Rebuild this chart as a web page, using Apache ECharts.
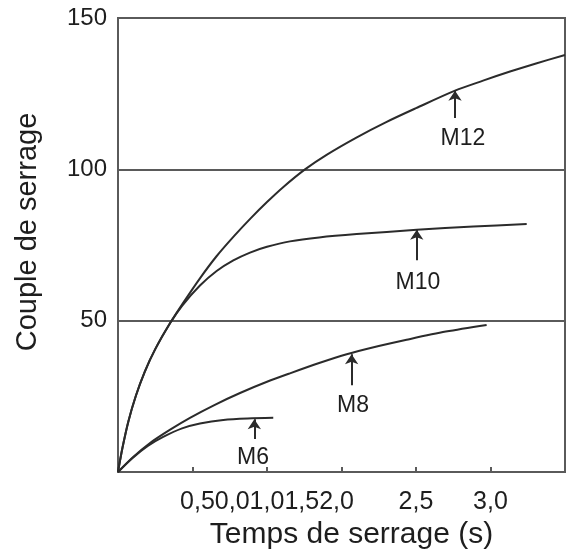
<!DOCTYPE html>
<html>
<head>
<meta charset="utf-8">
<title>Couple de serrage</title>
<script src="https://cdn.jsdelivr.net/npm/echarts@6/dist/echarts.min.js"></script>
<style>
    html, body { margin: 0; padding: 0; background: #fff; }
    #main { width: 571px; height: 553px; }
</style>
</head>
<body>
<div id="main"></div>
<script>
// x axis ticks every 0.5, labels as printed under ticks
var tickLabels = ['', '', '0,50,01,01,52,0', '', '2,5', '3,0', ''];
var yTicks = [0, 50, 100, 150];

// curves [x, couple]
var m12 = [[0, 0], [0.03, 8.0], [0.07, 16.8], [0.12, 25.2], [0.18, 33.2], [0.25, 40.6], [0.35, 49.2],
    [0.45, 56.8], [0.55, 64.0], [0.66, 71.2], [0.78, 78.0], [0.89, 83.8], [1.0, 89.2], [1.11, 94.2],
    [1.255, 100], [1.4, 104.8], [1.6, 110.5], [1.8, 115.6], [2.0, 120.2], [2.262, 126.0],
    [2.45, 129.3], [2.631, 132.3], [2.8, 134.9], [3.0, 137.8]];
var m10 = [[0, 0], [0.03, 8.0], [0.07, 16.8], [0.12, 25.2], [0.18, 33.2], [0.25, 40.6], [0.35, 49.2],
    [0.43, 54.9], [0.55, 61.6], [0.662, 66.4], [0.774, 69.9], [0.886, 72.5], [1.0, 74.4],
    [1.154, 76.2], [1.35, 77.5], [1.602, 78.6], [2.005, 80.0], [2.385, 81.1], [2.743, 81.9]];
var m8 = [[0, 0], [0.1, 4.9], [0.215, 9.6], [0.35, 14.0], [0.483, 17.9], [0.65, 22.2], [0.819, 26.1],
    [1.0, 29.8], [1.154, 32.6], [1.35, 36.0], [1.535, 38.9], [1.75, 41.6], [1.937, 43.7],
    [2.2, 46.4], [2.474, 48.6]];
var m6 = [[0, 0], [0.1, 4.7], [0.2, 8.6], [0.3, 11.5], [0.43, 14.4], [0.55, 16.0], [0.707, 17.2],
    [0.87, 17.7], [1.042, 17.9]];

// fleches: [nom, x, bas de la fleche, pointe, x du texte, y du texte]
var arrows = [
    ['M12', 2.262, 117.0, 126.0, 2.315, 110.0],
    ['M10', 2.005, 70.0, 80.0, 2.013, 62.6],
    ['M8', 1.568, 28.7, 38.9, 1.577, 22.0],
    ['M6', 0.915, 10.9, 17.4, 0.906, 4.6]
];

window.onload = function() {
    var myChart = echarts.init(document.getElementById('main'));
    var lineColor = '#2b2b2b',
        frameColor = '#5a5a5a',
        textColor = '#1e1e1e',
        font = 'Liberation Sans, Arial, sans-serif';

    function curve(name, data) {
        return {
            name: name,
            type: 'line',
            data: data,
            smooth: 0.3,
            showSymbol: false,
            lineStyle: { color: lineColor, width: 2 },
            silent: true
        };
    }

    var series = [curve('M12', m12), curve('M10', m10), curve('M8', m8), curve('M6', m6)];

    // fleches
    series.push({
        type: 'line',
        data: [],
        silent: true,
        markLine: {
            silent: true,
            symbol: ['none', 'arrow'],
            symbolSize: 10,
            lineStyle: { color: lineColor, width: 2, type: 'solid' },
            itemStyle: { color: lineColor },
            label: { show: false },
            data: arrows.map(function(a) {
                return [{ coord: [a[1], a[2]] }, { coord: [a[1], a[3]] }];
            })
        }
    });
    // noms des courbes
    series.push({
        type: 'scatter',
        symbolSize: 0,
        itemStyle: { color: textColor, opacity: 1 },
        silent: true,
        data: arrows.map(function(a) { return [a[4], a[5], a[0]]; }),
        label: {
            show: true,
            position: 'inside',
            formatter: function(p) { return p.data[2]; },
            color: textColor,
            opacity: 1,
            textBorderWidth: 0,
            fontFamily: font,
            fontSize: 23
        }
    });

    var option = {
        animation: false,
        backgroundColor: '#fff',
        grid: {
            left: 118,
            right: 6,
            top: 18,
            bottom: 81,
            outerBoundsMode: 'none',
            containLabel: false,
            show: true,
            borderColor: frameColor,
            borderWidth: 2
        },
        xAxis: {
            type: 'value',
            min: 0,
            max: 3,
            interval: 0.5,
            name: 'Temps de serrage (s)',
            nameLocation: 'middle',
            nameGap: 46,
            nameTextStyle: { color: textColor, fontFamily: font, fontSize: 30, padding: [0, 0, 0, 20] },
            axisLine: { show: true, lineStyle: { color: frameColor, width: 2 } },
            axisTick: { show: true, inside: true, length: 5, lineStyle: { color: frameColor, width: 2 } },
            splitLine: { show: false },
            axisLabel: {
                color: textColor,
                fontFamily: font,
                fontSize: 25,
                margin: 18,
                showMinLabel: true,
                showMaxLabel: true,
                formatter: function(v) {
                    return tickLabels[Math.round(v / 0.5)] || '';
                }
            }
        },
        yAxis: {
            type: 'value',
            min: yTicks[0],
            max: yTicks[yTicks.length - 1],
            interval: 50,
            name: 'Couple de serrage',
            nameLocation: 'middle',
            nameGap: 76,
            nameTextStyle: { color: textColor, fontFamily: font, fontSize: 29, padding: [0, 0, 0, 26] },
            axisLine: { show: true, lineStyle: { color: frameColor, width: 2 } },
            axisTick: { show: false },
            splitLine: { show: true, lineStyle: { color: frameColor, width: 2 } },
            axisLabel: {
                color: textColor,
                fontFamily: font,
                fontSize: 24,
                margin: 11,
                formatter: function(v) { return v == 0 ? '' : String(v); }
            }
        },
        series: series
    };
    myChart.setOption(option);
}
</script>
</body>
</html>
